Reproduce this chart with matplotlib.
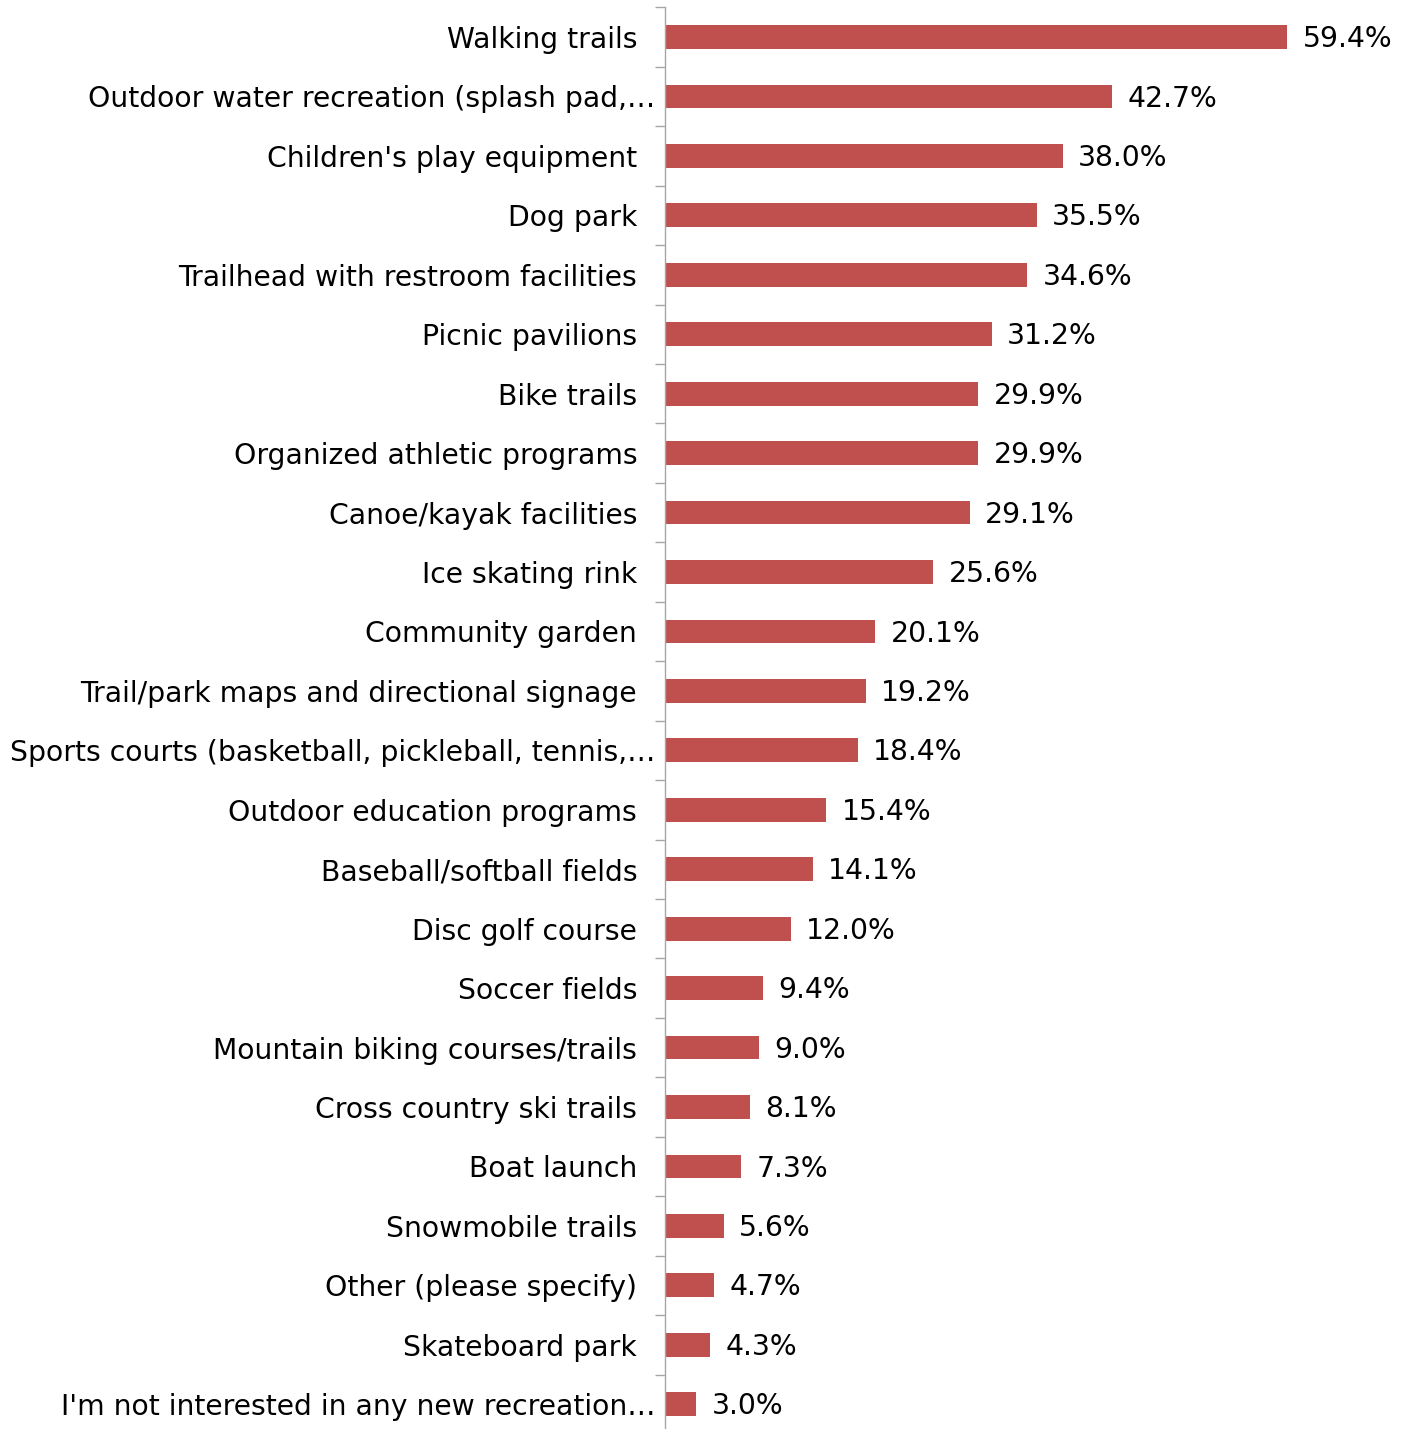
import matplotlib
matplotlib.use('Agg')
import matplotlib.pyplot as plt
import matplotlib.transforms as mtransforms
import numpy as np

# ── Data ────────────────────────────────────────────────────────────────────
categories = [
    'Walking trails',
    'Outdoor water recreation (splash pad,…',
    "Children's play equipment",
    'Dog park',
    'Trailhead with restroom facilities',
    'Picnic pavilions',
    'Bike trails',
    'Organized athletic programs',
    'Canoe/kayak facilities',
    'Ice skating rink',
    'Community garden',
    'Trail/park maps and directional signage',
    'Sports courts (basketball, pickleball, tennis,…',
    'Outdoor education programs',
    'Baseball/softball fields',
    'Disc golf course',
    'Soccer fields',
    'Mountain biking courses/trails',
    'Cross country ski trails',
    'Boat launch',
    'Snowmobile trails',
    'Other (please specify)',
    'Skateboard park',
    "I'm not interested in any new recreation…",
]
values = [59.4, 42.7, 38.0, 35.5, 34.6, 31.2, 29.9, 29.9, 29.1, 25.6, 20.1,
          19.2, 18.4, 15.4, 14.1, 12.0, 9.4, 9.0, 8.1, 7.3, 5.6, 4.7, 4.3, 3.0]

BAR = '#C0504D'
FONT = 'DejaVu Sans'
FS = 20.3

fig = plt.figure(figsize=(14.10, 14.29), dpi=100, facecolor='white')
ax = fig.add_axes([0.4716, -0.0035, 0.52, 0.9984])

y = np.arange(len(categories))
ax.barh(y, values, height=0.4, color=BAR)
ax.set_xlim(0, 70)
ax.set_ylim(len(categories) - 0.5, -0.5)

for yi, v in zip(y, values):
    ax.annotate(f'{v:.1f}%', (v, yi), xytext=(11, -1.5), textcoords='offset points',
                va='center', ha='left', fontsize=FS, family=FONT, color='#000000')

# category ticks: labels at centres, tick marks at boundaries
ax.set_yticks(y)
ax.set_yticklabels(categories, fontsize=FS, family=FONT, color='#000000')
ax.tick_params(axis='y', which='major', length=0, pad=20)
ax.set_yticks(np.arange(-0.5, len(categories) + 0.5, 1), minor=True)
ax.tick_params(axis='y', which='minor', length=7, width=1, color='#A6A6A6')

# truncated labels sit a little closer to the axis
shift = mtransforms.ScaledTranslation(18 / 100, 0, fig.dpi_scale_trans)
for lbl in ax.get_yticklabels():
    if lbl.get_text().endswith('…'):
        lbl.set_transform(lbl.get_transform() + shift)

ax.set_xticks([])
for s in ['top', 'right', 'bottom']:
    ax.spines[s].set_visible(False)
ax.spines['left'].set_color('#A6A6A6')
ax.spines['left'].set_linewidth(1)

plt.savefig('out.png', dpi=100, facecolor='white')
